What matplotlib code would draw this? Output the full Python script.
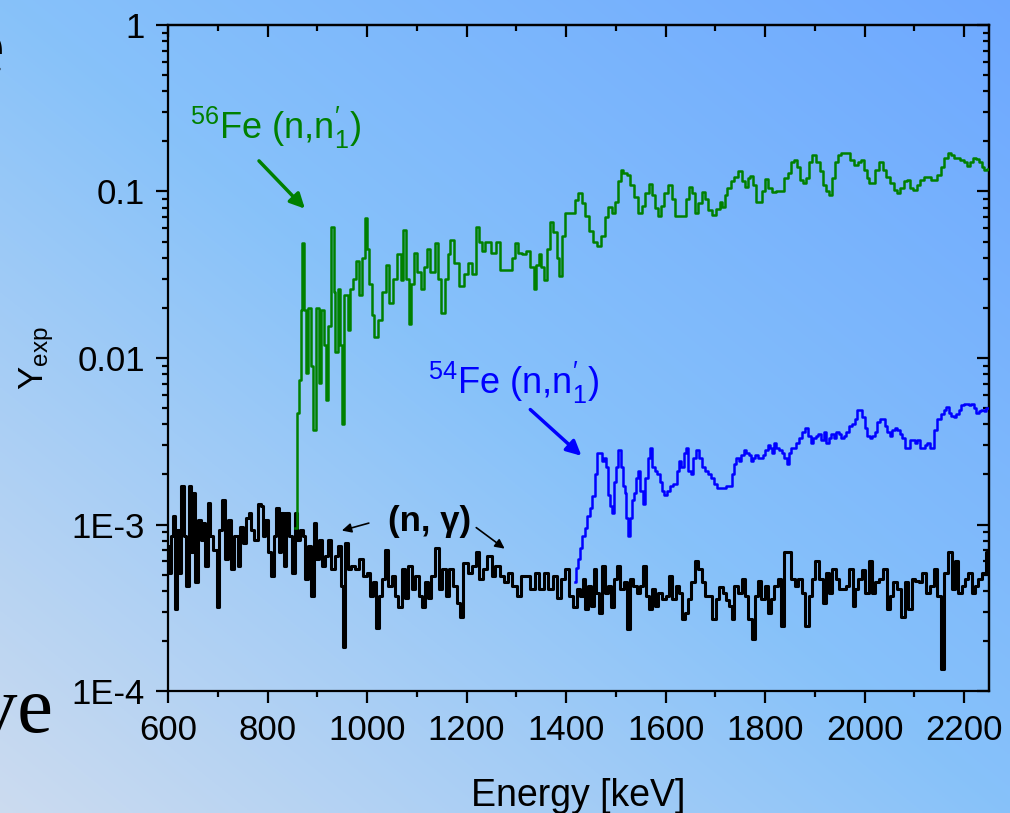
import numpy as np
import matplotlib
matplotlib.use("Agg")
import matplotlib.pyplot as plt
from matplotlib.ticker import LogLocator, MultipleLocator, NullFormatter

plt.rcParams['font.family'] = ['Liberation Sans', 'DejaVu Sans']
plt.rcParams['mathtext.fontset'] = 'custom'
plt.rcParams['mathtext.rm'] = 'Liberation Sans'
plt.rcParams['mathtext.it'] = 'Liberation Sans:italic'
plt.rcParams['mathtext.bf'] = 'Liberation Sans:bold'

# (n,gamma) background yield
e_ng = [601, 604, 608, 611, 616, 621, 625, 629, 634, 639, 644, 649, 652, 658, 663, 668, 672, 678, 682, 688,
        694, 701, 706, 713, 718, 725, 730, 737, 743, 748, 755, 759, 765, 770, 777, 784, 788, 793, 798, 804,
        810, 815, 820, 825, 830, 835, 841, 847, 852, 857, 862, 869, 873, 879, 884, 891, 895, 900, 906, 912,
        919, 926, 931, 939, 946, 950, 954, 959, 964, 971, 979, 989, 996, 1003, 1009, 1016, 1021, 1026, 1033, 1040,
        1046, 1053, 1060, 1066, 1073, 1080, 1086, 1093, 1100, 1107, 1113, 1120, 1125, 1132, 1141, 1148, 1155, 1161, 1168, 1177,
        1184, 1190, 1197, 1207, 1214, 1222, 1228, 1237, 1247, 1254, 1262, 1271, 1281, 1287, 1295, 1306, 1314, 1324, 1333, 1341,
        1351, 1360, 1368, 1378, 1387, 1393, 1401, 1409, 1418, 1425,
        1431, 1436, 1442, 1448, 1454, 1458, 1463, 1468, 1475, 1480, 1487, 1494, 1500, 1505, 1512, 1519, 1527, 1532, 1539, 1545,
        1552, 1557, 1563, 1569, 1576, 1582, 1589, 1597, 1604, 1610, 1617, 1624, 1630, 1636, 1642, 1648, 1656, 1661, 1669, 1676,
        1683, 1689, 1697, 1704, 1711, 1718, 1724, 1731, 1735, 1742, 1750, 1756, 1763, 1770, 1777, 1782, 1789, 1795, 1803, 1809,
        1815, 1822, 1829, 1835, 1842, 1850, 1856, 1864, 1870, 1877, 1885, 1890, 1897, 1905, 1912, 1919, 1924, 1931, 1939, 1945,
        1952, 1959, 1965, 1974, 1979, 1984, 1991, 1998, 2004, 2012, 2019, 2024, 2034, 2041, 2048, 2055, 2061, 2070, 2077, 2085,
        2091, 2098, 2105, 2112, 2120, 2128, 2135, 2142, 2150, 2156, 2162, 2172, 2179, 2185, 2192, 2199, 2205, 2212, 2219, 2225,
        2232, 2239, 2247]
y_ng = [7.4, 5.1, 8.5, 11.2, 3.1, 9.3, 5.1, 17.0, 8.5, 4.3, 17.0, 6.8, 15.5, 4.5, 10.7, 8.1, 10.2, 5.6, 13.5, 8.5,
        7.0, 3.2, 9.3, 14.1, 6.2, 10.7, 5.4, 8.5, 5.6, 9.7, 7.7, 10.9, 11.7, 9.3, 8.1, 13.2, 12.9, 8.5, 10.7, 6.8,
        4.9, 8.5, 12.6, 6.8, 11.7, 5.6, 11.7, 8.5, 5.1, 11.7, 8.1, 9.3, 8.5, 4.7, 7.4, 3.7, 10.2, 6.2, 8.1, 5.6,
        6.5, 8.1, 5.4, 6.5, 7.4, 4.3, 1.85, 7.7, 5.4, 5.6, 5.4, 6.2, 4.9, 5.1, 3.7, 4.5, 2.4, 3.7, 4.7, 7.0,
        4.3, 4.9, 3.7, 3.2, 5.4, 3.6, 5.6, 4.1, 4.9, 3.7, 3.2, 4.5, 3.6, 4.9, 7.2, 4.1, 5.4, 3.7, 5.4, 4.3,
        3.4, 2.8, 5.9, 5.1, 5.6, 6.8, 4.7, 5.4, 6.5, 4.9, 5.6, 4.9, 4.5, 5.1, 4.3, 3.7, 4.9, 4.9, 4.1, 5.1,
        4.1, 5.1, 4.1, 4.9, 3.6, 4.7, 5.4, 3.7, 3.2, 4.1,
        3.7, 4.7, 3.1, 4.3, 3.25, 5.4, 3.9, 2.96, 5.6, 3.9, 4.3, 3.2, 4.7, 5.6, 4.1, 4.5, 2.35, 4.7, 4.3, 3.9,
        4.3, 5.6, 3.7, 3.1, 4.1, 3.25, 3.9, 3.55, 3.7, 4.9, 3.55, 4.3, 3.9, 2.7, 2.96, 3.55, 4.5, 6.0, 5.4, 4.5,
        3.7, 3.7, 2.7, 3.55, 4.2, 3.9, 3.5, 3.25, 2.7, 4.3, 3.9, 4.7, 3.7, 2.7, 2.05, 3.7, 4.6, 3.55, 4.3, 2.96,
        3.55, 4.3, 4.7, 2.46, 6.8, 6.8, 4.7, 4.3, 4.7, 3.9, 2.46, 3.7, 4.7, 6.0, 4.7, 3.4, 5.1, 3.9, 5.4, 4.7,
        4.1, 4.1, 4.3, 5.4, 3.25, 4.1, 4.7, 5.3, 3.9, 6.0, 3.9, 4.5, 4.7, 5.4, 3.1, 3.7, 4.5, 4.1, 2.8, 4.5,
        3.1, 4.7, 4.6, 4.5, 5.1, 3.9, 4.3, 5.4, 3.7, 1.35, 5.1, 6.8, 4.1, 6.0, 3.9, 4.3, 4.7, 5.1, 3.9, 4.3,
        4.7, 5.1, 6.8]
y_ng = [v * 1e-4 for v in y_ng]

# 56Fe (n,n'1)
e_fe56 = [855, 862, 866, 868, 871, 875, 879, 885, 890, 894, 900, 905, 911, 915, 919, 926, 931, 935, 938, 944,
          948, 951, 958, 964, 969, 975, 980, 987, 993, 998, 1002, 1006, 1012, 1018, 1026, 1034, 1041, 1048, 1056, 1065,
          1070, 1076, 1081, 1086, 1091, 1096, 1104, 1112, 1118, 1123, 1132, 1140, 1146, 1153, 1160, 1165, 1170, 1180, 1190, 1198,
          1207, 1214, 1222, 1228, 1234, 1240, 1246, 1254, 1264, 1270, 1280, 1287, 1294, 1301, 1307, 1316, 1324, 1332, 1338, 1343,
          1348, 1353, 1358, 1364, 1371, 1378, 1384, 1389, 1395, 1400, 1408, 1415, 1421, 1428, 1435, 1442, 1450, 1458, 1465, 1475,
          1481, 1487, 1496, 1502, 1507, 1512, 1518, 1525, 1532, 1540, 1549, 1556, 1563, 1570, 1576, 1582, 1587, 1594, 1601, 1609,
          1615, 1621, 1630, 1639, 1644, 1649, 1656, 1663, 1669, 1676, 1682, 1690, 1697, 1705, 1712, 1716, 1721, 1726, 1735, 1742,
          1750, 1757, 1763, 1768, 1773, 1780, 1785, 1790, 1796, 1802, 1809, 1817, 1825, 1834, 1842, 1850, 1855, 1860, 1868, 1874,
          1880, 1886, 1892, 1898, 1905, 1914, 1920, 1926, 1931, 1937, 1943, 1949, 1958, 1967, 1975, 1984, 1990, 1996, 2002, 2007,
          2012, 2018, 2025, 2032, 2040, 2048, 2055, 2062, 2068, 2075, 2082, 2088, 2094, 2101, 2108, 2115, 2122, 2130, 2136, 2142,
          2150, 2157, 2164, 2170, 2176, 2183, 2189, 2196, 2203, 2209, 2215, 2220, 2226, 2232, 2238, 2243, 2249]
y_fe56 = [0.00095, 0.0047, 0.0074, 0.0195, 0.049, 0.0195, 0.0081, 0.020, 0.009, 0.0037, 0.020, 0.0071, 0.0195, 0.012, 0.0056, 0.0155, 0.061, 0.025, 0.0108, 0.026,
          0.012, 0.0040, 0.024, 0.0148, 0.026, 0.030, 0.038, 0.024, 0.040, 0.069, 0.045, 0.028, 0.018, 0.0133, 0.017, 0.025, 0.036, 0.0215, 0.030, 0.042,
          0.0296, 0.059, 0.030, 0.0159, 0.028, 0.043, 0.033, 0.026, 0.035, 0.045, 0.033, 0.049, 0.030, 0.0187, 0.030, 0.042, 0.051, 0.037, 0.027, 0.032,
          0.037, 0.032, 0.061, 0.050, 0.044, 0.050, 0.050, 0.043, 0.050, 0.034, 0.034, 0.034, 0.040, 0.049, 0.043, 0.042, 0.044, 0.035, 0.026, 0.036,
          0.042, 0.035, 0.0295, 0.045, 0.066, 0.057, 0.040, 0.031, 0.054, 0.074, 0.074, 0.074, 0.089, 0.098, 0.085, 0.071, 0.058, 0.050, 0.047, 0.054,
          0.070, 0.081, 0.074, 0.087, 0.115, 0.134, 0.130, 0.126, 0.110, 0.093, 0.074, 0.082, 0.098, 0.111, 0.095, 0.080, 0.071, 0.082, 0.098, 0.110,
          0.090, 0.071, 0.071, 0.071, 0.090, 0.107, 0.098, 0.074, 0.085, 0.099, 0.090, 0.077, 0.072, 0.078, 0.086, 0.081, 0.095, 0.105, 0.115, 0.122,
          0.132, 0.115, 0.107, 0.120, 0.124, 0.110, 0.086, 0.086, 0.100, 0.119, 0.105, 0.099, 0.101, 0.100, 0.120, 0.129, 0.150, 0.154, 0.140, 0.118,
          0.112, 0.120, 0.150, 0.166, 0.150, 0.132, 0.110, 0.100, 0.095, 0.120, 0.150, 0.166, 0.170, 0.170, 0.155, 0.145, 0.150, 0.155, 0.135, 0.120,
          0.112, 0.112, 0.135, 0.151, 0.135, 0.123, 0.112, 0.102, 0.098, 0.105, 0.115, 0.117, 0.105, 0.102, 0.110, 0.118, 0.123, 0.122, 0.118, 0.117,
          0.125, 0.140, 0.160, 0.171, 0.165, 0.158, 0.158, 0.155, 0.150, 0.143, 0.150, 0.158, 0.157, 0.150, 0.140, 0.135, 0.137]

# 54Fe (n,n'1)
e_fe54 = [1418, 1422, 1425, 1430, 1435, 1440, 1445, 1450, 1455, 1460, 1465, 1470, 1474, 1478, 1482, 1486, 1490, 1494, 1498, 1502,
          1508, 1512, 1516, 1519, 1523, 1527, 1531, 1535, 1539, 1543, 1547, 1552, 1557, 1562, 1567, 1571, 1576, 1581, 1586, 1591,
          1595, 1599, 1605, 1612, 1619, 1625, 1629, 1634, 1639, 1643, 1648, 1653, 1658, 1664, 1670, 1676, 1683, 1689, 1695, 1700,
          1706, 1712, 1718, 1724, 1730, 1735, 1740, 1745, 1750, 1755, 1760, 1765, 1770, 1773, 1778, 1783, 1788, 1793, 1798, 1803,
          1808, 1812, 1816, 1820, 1825, 1830, 1836, 1841, 1846, 1850, 1855, 1860, 1866, 1872, 1878, 1884, 1889, 1894, 1899, 1904,
          1910, 1915, 1920, 1925, 1930, 1936, 1941, 1946, 1951, 1956, 1961, 1966, 1971, 1977, 1983, 1988, 1993, 1998, 2003, 2008,
          2013, 2018, 2023, 2028, 2033, 2038, 2043, 2048, 2053, 2058, 2063, 2068, 2073, 2078, 2083, 2088, 2093, 2098, 2103, 2108,
          2113, 2118, 2123, 2128, 2133, 2138, 2142, 2147, 2152, 2157, 2162, 2167, 2172, 2177, 2182, 2187, 2192, 2197, 2202, 2207,
          2212, 2217, 2222, 2227, 2232, 2237, 2242, 2247]
y_fe54 = [0.45, 0.55, 0.62, 0.72, 0.85, 0.95, 1.12, 1.25, 1.48, 2.0, 2.7, 2.7, 2.4, 2.5, 2.2, 1.5, 1.3, 1.18, 1.8, 2.2,
          2.8, 2.2, 1.7, 1.55, 1.1, 0.85, 1.1, 1.4, 1.55, 1.9, 2.1, 1.6, 1.32, 1.9, 2.5, 2.9, 2.2, 2.1, 2.0, 1.8,
          1.6, 1.5, 1.6, 1.7, 1.75, 2.1, 2.4, 2.2, 2.7, 2.9, 2.1, 2.0, 2.5, 2.8, 2.5, 2.2, 2.1, 2.0, 1.9, 1.75,
          1.65, 1.65, 1.65, 1.7, 1.7, 2.0, 2.3, 2.5, 2.4, 2.6, 2.8, 2.7, 2.6, 2.4, 2.5, 2.6, 2.5, 2.5, 2.6, 2.8,
          3.0, 2.9, 2.7, 3.1, 2.9, 2.8, 2.7, 2.5, 2.3, 2.7, 2.9, 2.9, 3.1, 3.3, 3.6, 3.8, 3.4, 3.1, 3.3, 3.4,
          3.5, 3.2, 3.6, 3.1, 3.3, 3.5, 3.3, 3.6, 3.5, 3.3, 3.4, 3.6, 3.9, 4.0, 4.3, 4.9, 4.9, 4.4, 3.8, 3.4,
          3.3, 3.4, 3.6, 4.1, 4.3, 4.3, 3.9, 3.6, 3.4, 3.7, 3.8, 3.7, 3.5, 3.3, 2.9, 2.9, 3.2, 3.2, 3.1, 3.2,
          2.9, 2.9, 3.0, 3.1, 2.9, 2.9, 3.7, 4.3, 4.3, 4.6, 4.9, 5.1, 4.7, 4.5, 4.4, 4.6, 4.9, 5.2, 5.3, 5.3,
          5.2, 5.3, 5.0, 4.7, 4.8, 4.9, 4.8, 5.0]
y_fe54 = [v * 1e-3 for v in y_fe54]

x_ticks = [600, 800, 1000, 1200, 1400, 1600, 1800, 2000, 2200]
y_ticks = [1e-4, 1e-3, 1e-2, 1e-1, 1]
y_labels = ["1E-4", "1E-3", "0.01", "0.1", "1"]

fig = plt.figure(figsize=(10.1, 8.13), dpi=100)

# slide background gradient
bg = fig.add_axes([0, 0, 1, 1], zorder=-10)
bg.axis('off')
gx, gy = np.meshgrid(np.linspace(0, 1, 400), np.linspace(1, 0, 320))
t = (gx + gy) / 2
c0 = np.array([0.80, 0.86, 0.94])
c1 = np.array([0.53, 0.76, 0.98])
c2 = np.array([0.43, 0.66, 1.00])
t1 = np.clip(t / 0.5, 0, 1)[..., None]
t2 = np.clip((t - 0.5) / 0.5, 0, 1)[..., None]
img = np.where(t[..., None] < 0.5, c0 + (c1 - c0) * t1, c1 + (c2 - c1) * t2)
bg.imshow(img, extent=[0, 1, 0, 1], aspect='auto', origin='upper')
bg.set_xlim(0, 1)
bg.set_ylim(0, 1)

# bits of the slide text behind the chart
fig.text(53 / 1010, 1 - 732 / 813, "ve", ha='right', va='baseline',
         family='Liberation Serif', fontsize=58, color='black')
fig.text(4 / 1010, 1 - 72 / 813, "e", ha='right', va='baseline',
         family='Liberation Serif', fontsize=58, color='black')

ax = fig.add_axes([168 / 1010, 1 - 691 / 813, 821 / 1010, 666 / 813])
ax.patch.set_alpha(0)

ax.plot(e_ng, y_ng, drawstyle='steps-mid', color='black', lw=2.2, zorder=2)
ax.plot(e_fe56, y_fe56, drawstyle='steps-mid', color='#008000', lw=1.8, zorder=3)
ax.plot(e_fe54, y_fe54, drawstyle='steps-mid', color='#0000ff', lw=1.8, zorder=3)

ax.set_yscale('log')
ax.set_xlim(600, 2250)
ax.set_ylim(1e-4, 1)
ax.set_xticks(x_ticks)
ax.xaxis.set_minor_locator(MultipleLocator(100))
ax.set_yticks(y_ticks, y_labels)
ax.yaxis.set_minor_locator(LogLocator(base=10, subs=np.arange(2, 10)))
ax.yaxis.set_minor_formatter(NullFormatter())

for s in ax.spines.values():
    s.set_linewidth(1.6)
ax.tick_params(which='major', direction='out', length=8.5, width=1.6, labelsize=25, pad=8)
ax.tick_params(which='minor', direction='out', length=4.5, width=1.6)

top = ax.secondary_xaxis('top')
top.set_xticks(x_ticks)
top.xaxis.set_minor_locator(MultipleLocator(100))
top.tick_params(which='major', direction='in', length=8.5, width=1.6, labeltop=False)
top.tick_params(which='minor', direction='in', length=4.5, width=1.6)
top.spines['top'].set_linewidth(1.6)

right = ax.secondary_yaxis('right')
right.set_yticks(y_ticks)
right.yaxis.set_minor_locator(LogLocator(base=10, subs=np.arange(2, 10)))
right.yaxis.set_minor_formatter(NullFormatter())
right.tick_params(which='major', direction='in', length=8.5, width=1.6, labelright=False)
right.tick_params(which='minor', direction='in', length=4.5, width=1.6)
right.spines['right'].set_linewidth(1.6)

ax.set_xlabel("Energy [keV]", fontsize=27)
ax.xaxis.set_label_coords(0.5, -0.13)
ax.set_ylabel(r"Y$_{\mathrm{exp}}$", fontsize=25)
ax.yaxis.set_label_coords(-0.137, 0.5)

# annotations
ax.text(644, 0.207, r"$^{56}$Fe (n,n$_{1}^{\prime}$)", color='#008000', fontsize=26, va='baseline')
ax.annotate("", xy=(879, 0.0767), xytext=(779, 0.157),
            arrowprops=dict(arrowstyle='-|>', color='#008000', lw=2.5, mutation_scale=22))
ax.text(1123, 0.00604, r"$^{54}$Fe (n,n$_{1}^{\prime}$)", color='#0000ff', fontsize=26, va='baseline')
ax.annotate("", xy=(1435, 0.00252), xytext=(1324, 0.00503),
            arrowprops=dict(arrowstyle='-|>', color='#0000ff', lw=2.5, mutation_scale=22))
ax.text(1125, 9.1e-4, "(n, γ)", color='black', fontsize=25, fontweight='bold', ha='center', va='baseline')
ax.annotate("", xy=(944, 9.1e-4), xytext=(1009, 1.03e-3),
            arrowprops=dict(arrowstyle='-|>', color='black', lw=1.2, mutation_scale=14))
ax.annotate("", xy=(1281, 7.0e-4), xytext=(1215, 9.8e-4),
            arrowprops=dict(arrowstyle='-|>', color='black', lw=1.2, mutation_scale=14))

fig.savefig("out.png", dpi=100)
